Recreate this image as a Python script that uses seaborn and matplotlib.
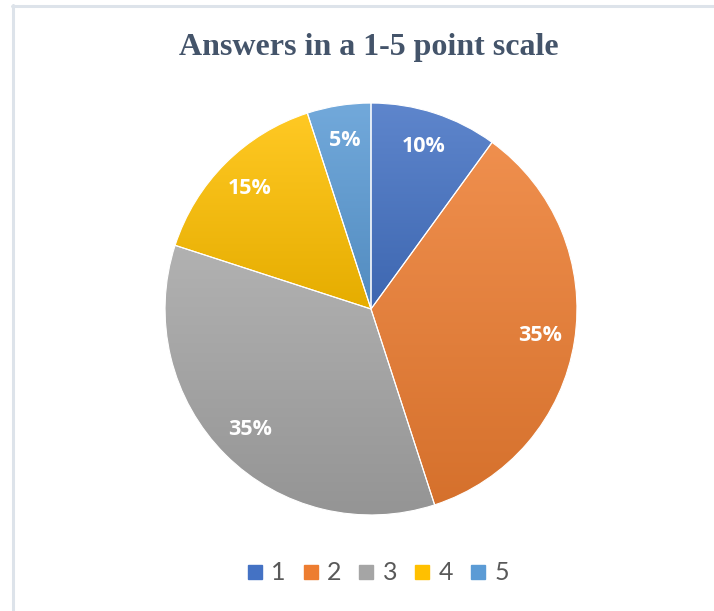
import numpy as np
import matplotlib
matplotlib.use("Agg")
import matplotlib.pyplot as plt
import matplotlib.colors as mcolors
from matplotlib.lines import Line2D
import seaborn as sns

categories = ["1", "2", "3", "4", "5"]
shares = [10, 35, 35, 15, 5]
slice_colors = ["#4472C4", "#ED7D31", "#A5A5A5", "#FFC000", "#5B9BD5"]

sns.set_theme(style="white")
plt.rcParams['font.family'] = ['Open Sans', 'DejaVu Sans']

fig = plt.figure(figsize=(7.14, 6.11), dpi=100)

# light frame (only top and left edges visible in the reference crop)
fig.add_artist(Line2D([13/714, 13/714], [0, 1 - 5/611], color="#dde3ea", lw=2.2))
fig.add_artist(Line2D([12/714, 1], [1 - 6/611, 1 - 6/611], color="#dde3ea", lw=2.2))

ax = fig.add_axes([(371 - 208) / 714, (611 - 309 - 208) / 611, 416 / 714, 416 / 611])
wedges, texts, autotexts = ax.pie(
    shares, colors=slice_colors, startangle=90, counterclock=False,
    autopct="%1.0f%%", pctdistance=0.83, radius=1,
    wedgeprops=dict(linewidth=0.8, edgecolor="white"),
    textprops=dict(color="white", fontsize=15.5, fontweight="bold"))
ax.set_xlim(-1.01, 1.01)
ax.set_ylim(-1.01, 1.01)
ax.set_aspect("equal")
ax.axis("off")

# vertical gradient inside each slice, lighter on top
for w, c in zip(wedges, slice_colors):
    rgb = np.array(mcolors.to_rgb(c))
    top = rgb + (1 - rgb) * 0.14
    bot = rgb * 0.9
    t = np.linspace(0, 1, 256)[:, None]
    grad = top[None, :] * (1 - t) + bot[None, :] * t
    grad = np.repeat(grad[:, None, :], 2, axis=1)
    ext = w.get_path().get_extents()
    im = ax.imshow(grad, extent=[ext.x0, ext.x1, ext.y0, ext.y1], origin="upper",
                   aspect="auto", zorder=w.get_zorder() - 0.01, interpolation="bilinear")
    im.set_clip_path(w)
    w.set_facecolor("none")
    w.set_zorder(w.get_zorder() + 0.5)
for t in autotexts:
    t.set_zorder(5)

fig.text(369 / 714, 1 - 47 / 611, "Answers in a 1-5 point scale",
         ha="center", va="center", fontsize=23, fontweight="bold",
         color="#44546A", family=["Liberation Serif", "DejaVu Serif"])

handles = [Line2D([], [], marker="s", linestyle="none", markersize=10.5,
                  markerfacecolor=c, markeredgecolor=c) for c in slice_colors]
fig.legend(handles, categories, loc="center", bbox_to_anchor=(378 / 714, 1 - 573 / 611),
           ncol=5, frameon=False, labelcolor="#595959",
           handlelength=0.6, handletextpad=0.35, columnspacing=0.7,
           prop=dict(family=["Lato", "DejaVu Sans"], size=18))

fig.savefig("out.png", dpi=100)
